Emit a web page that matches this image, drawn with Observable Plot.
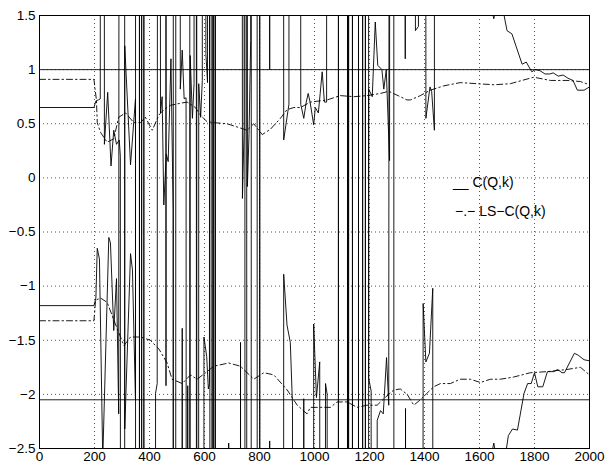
<!DOCTYPE html>
<html><head><meta charset="utf-8">
<script src="https://cdn.jsdelivr.net/npm/d3@7"></script>
<script src="https://cdn.jsdelivr.net/npm/@observablehq/plot@0.6"></script>
<style>
body{margin:0;background:#fff;}
#wrap{position:relative;width:605px;height:470px;}
.leg{position:absolute;font:14px "Liberation Sans",Arial,sans-serif;white-space:pre;color:#000;line-height:16px;}
</style></head><body><div id="wrap"></div>
<script>
// ---- data ----
const xTicks = [0,200,400,600,800,1000,1200,1400,1600,1800,2000];
const yTicks = [-2.5,-2,-1.5,-1,-0.5,0,0.5,1,1.5];
const refLevels = [1, -2.05];
const legendLabels = ["C(Q,k)", "LS\u2212C(Q,k)"];

// C(Q,k), upper branch: [k, value]; values of +/-40 are far off-scale excursions, null = gap
const cUpper = [[0,0.65],[198,0.65],[205,0.71],[214,0.72],[221,0.73],[223,40],[233,40],[236,0.31],[248,0.79],[260,0.11],[270,0.44],[280,0.31],[290,0.35],[294,0.2],[297,-40],[307,-40],[310,1.22],[331,0.12],[349,0.73],[352,-40],[362,-40],[365,40],[370,40],[373,-40],[378,-40],[381,40],[430,40],[440,0.6],[446,0.75],[452,-0.25],[461,0.22],[468,0.15],[478,1.1],[486,-0.3],[490,-40],[494,-40],[497,40],[508,40],[512,0.82],[519,1.18],[526,0.73],[533,0.74],[537,-40],[545,-40],[548,1.13],[556,0.55],[562,0.87],[566,40],[569,40],[572,-40],[576,-40],[579,0.87],[586,0.56],[592,0.9],[596,40],[603,40],[605,1.15],[611,0.88],[615,40],[618,40],[621,-40],[626,-40],[629,40],[632,40],[635,-40],[638,-40],[641,40],[728,40],[738,-0.19],[744,0.45],[748,40],[752,40],[756,-0.08],[762,0.41],[768,1.27],[772,40],[790,40],[793,-40],[797,-40],[801,1.05],[804,40],[833,40],[837,1.0],[841,40],[884,40],[888,0.35],[907,0.68],[912,40],[945,40],[950,0.68],[961,0.55],[970,0.7],[977,0.78],[984,0.7],[997,0.49],[1003,0.65],[1014,0.6],[1028,0.98],[1036,0.7],[1044,0.7],[1048,40],[1085.5,40],[1088.5,-40],[1118.5,-40],[1121.5,40],[1122.5,40],[1125.5,-40],[1136.5,-40],[1139.5,40],[1158.5,40],[1161.5,-40],[1173.5,-40],[1176.5,40],[1183.5,40],[1186.5,-40],[1194,-40],[1197,0.82],[1210,0.75],[1221,1.44],[1230,1.04],[1245,1.0],[1252,0.82],[1261,1.0],[1273,0.16],[1280,40],[1326,40],[1330,1.1],[1334,40],[1363,40],[1367,1.36],[1378,1.4],[1388,40],[1402,40],[1405,0.55],[1420,0.84],[1426,0.8],[1436,0.44],[1437,40],[1438,null],[1640,1.6],[1652,1.47],[1662,1.6],[1688,1.52],[1700,1.36],[1718,1.33],[1735,1.2],[1755,1.05],[1770,1.07],[1790,0.98],[1802,1.0],[1820,0.99],[1838,0.96],[1856,0.96],[1868,0.97],[1886,0.94],[1904,0.95],[1922,0.92],[1940,0.9],[1956,0.81],[1980,0.81],[2000,0.84]];

// C(Q,k), lower branch
const cLower = [[0,-1.18],[198,-1.18],[205,-1.11],[210,-0.65],[218,-0.75],[230,-2.6],[252,-0.55],[258,-0.6],[270,-1.41],[280,-0.93],[288,-2.18],[297,40],[307,40],[310,-2.32],[331,-0.7],[338,-0.85],[349,-2.05],[352,40],[362,40],[365,-40],[370,-40],[373,40],[378,40],[381,-40],[418,-40],[422,-1.99],[428,-1.9],[437,40],[457,40],[460,-1.92],[463,40],[485,40],[488,-40],[515,-40],[519,-1.39],[523,-40],[535,-40],[539,-1.92],[543,-40],[545,-40],[548,40],[569,40],[572,-0.9],[576,-40],[596,-40],[598,-1.47],[608,-1.65],[614,-1.95],[618,-1.9],[621,40],[626,40],[628,-1.3],[632,-40],[635,40],[638,40],[641,-40],[684,-40],[688,-2.45],[692,-40],[727,-40],[731,-1.52],[735,-40],[746,-40],[748,40],[752,40],[755,-40],[768,-40],[772,40],[790,40],[797,40],[801,-0.7],[804,-40],[833,-40],[837,-2.43],[841,-40],[884,-40],[888,-0.89],[900,-1.36],[912,-1.52],[920,-2.1],[924,-40],[957,-40],[961,-2.04],[965,-40],[993,-40],[997,-1.35],[1007,-2.03],[1019,-1.7],[1024,-40],[1036,-40],[1040,-1.9],[1046,-2.0],[1052,-40],[1085.5,-40],[1088.5,40],[1118.5,40],[1121.5,-40],[1122.5,-40],[1125.5,40],[1136.5,40],[1139.5,-40],[1158.5,-40],[1161.5,40],[1173.5,40],[1176.5,-40],[1183.5,-40],[1186.5,40],[1194,40],[1197,-1.85],[1206,-1.97],[1210,-40],[1224,-40],[1228,-2.24],[1240,-2.15],[1250,-2.18],[1262,-1.66],[1270,-2.1],[1280,40],[1287,40],[1290,-40],[1327,-40],[1331,-2.13],[1335,-40],[1390,-40],[1395,-1.16],[1405,-1.7],[1418,-1.62],[1430,-1.02],[1433,-40],[1434,null],[1640,-2.6],[1652,-2.45],[1662,-2.6],[1690,-2.6],[1698,-2.5],[1705,-2.38],[1720,-2.32],[1738,-2.33],[1762,-1.99],[1775,-1.9],[1788,-1.9],[1800,-1.8],[1812,-1.93],[1830,-1.93],[1847,-1.79],[1870,-1.79],[1884,-1.77],[1900,-1.8],[1909,-1.8],[1927,-1.71],[1945,-1.62],[1960,-1.64],[1980,-1.68],[2000,-1.69]];

// LS-C(Q,k), upper branch
const lsUpper = [[0,0.91],[198,0.91],[203,0.8],[207,0.72],[210,0.51],[222,0.42],[246,0.33],[270,0.36],[288,0.56],[313,0.6],[343,0.51],[367,0.51],[385,0.56],[410,0.44],[434,0.58],[452,0.63],[476,0.67],[513,0.69],[537,0.7],[567,0.65],[585,0.58],[609,0.52],[634,0.51],[682,0.5],[719,0.47],[755,0.44],[779,0.5],[810,0.4],[840,0.45],[876,0.55],[900,0.63],[925,0.65],[949,0.65],[985,0.7],[1046,0.72],[1094,0.76],[1143,0.75],[1191,0.76],[1240,0.78],[1270,0.8],[1312,0.75],[1336,0.72],[1349,0.72],[1385,0.76],[1421,0.81],[1470,0.85],[1530,0.88],[1591,0.87],[1652,0.86],[1712,0.87],[1797,0.93],[1858,0.9],[1918,0.9],[1967,0.89],[2000,0.86]];

// LS-C(Q,k), lower branch
const lsLower = [[0,-1.32],[198,-1.32],[204,-1.13],[222,-1.11],[246,-1.15],[276,-1.35],[307,-1.55],[331,-1.47],[367,-1.47],[403,-1.5],[434,-1.58],[464,-1.71],[482,-1.86],[519,-1.9],[549,-1.82],[573,-1.86],[604,-1.8],[634,-1.74],[688,-1.71],[731,-1.74],[779,-1.86],[816,-1.8],[852,-1.82],[901,-1.96],[937,-2.1],[973,-2.18],[985,-2.12],[1022,-2.12],[1058,-2.12],[1082,-2.07],[1119,-2.07],[1155,-2.12],[1191,-2.1],[1228,-2.1],[1252,-2.04],[1288,-1.96],[1312,-1.95],[1337,-2.0],[1361,-2.1],[1385,-2.05],[1409,-1.99],[1433,-1.93],[1458,-1.9],[1494,-1.9],[1530,-1.86],[1567,-1.86],[1603,-1.89],[1640,-1.86],[1676,-1.86],[1724,-1.84],[1785,-1.8],[1845,-1.79],[1918,-1.77],[1967,-1.75],[2000,-1.82]];

// ---- build ----
const rows = pairs => pairs.map(([x, y]) => ({x, y}));
const fmtY = d => d < 0 ? "\u2212" + Math.abs(d) : String(d);
const dashDot = "6,3,1.5,3";
const font = '"Liberation Sans", Arial, sans-serif';

const chart = Plot.plot({
  width: 605, height: 470,
  marginLeft: 39, marginRight: 16, marginTop: 15, marginBottom: 22,
  style: {fontFamily: font, fontSize: "13.5px", background: "#fff", color: "#000"},
  x: {domain: [0, 2000], label: null},
  y: {domain: [-2.5, 1.5], label: null},
  marks: [
    Plot.gridX(xTicks.slice(1, -1), {stroke: "#555", strokeOpacity: 1, strokeWidth: 1, strokeDasharray: "1,3"}),
    Plot.gridY(yTicks.slice(1, -1), {stroke: "#555", strokeOpacity: 1, strokeWidth: 1, strokeDasharray: "1,3"}),
    Plot.ruleY(refLevels, {stroke: "#222", strokeWidth: 1}),
    Plot.line(rows(lsUpper), {x: "x", y: "y", stroke: "#000", strokeWidth: 0.9, strokeDasharray: dashDot, clip: true}),
    Plot.line(rows(lsLower), {x: "x", y: "y", stroke: "#000", strokeWidth: 0.9, strokeDasharray: dashDot, clip: true}),
    Plot.line(rows(cUpper), {x: "x", y: "y", stroke: "#000", strokeWidth: 0.9, clip: true}),
    Plot.line(rows(cLower), {x: "x", y: "y", stroke: "#000", strokeWidth: 0.9, clip: true}),
    Plot.frame({stroke: "#000", strokeWidth: 1}),
    Plot.axisX(xTicks, {tickSize: 0, tickPadding: 3, tickFormat: d => String(d), fontSize: 13.5}),
    Plot.axisY(yTicks, {tickSize: 0, tickPadding: 4, tickFormat: fmtY, fontSize: 13.5})
  ]
});
const wrap = document.getElementById("wrap");
wrap.appendChild(chart);

// legend (MATLAB-style, no box)
const l1 = document.createElement("div");
l1.className = "leg";
l1.style.left = "453px"; l1.style.top = "174px";
l1.textContent = "__ " + legendLabels[0];
const l2 = document.createElement("div");
l2.className = "leg";
l2.style.left = "455px"; l2.style.top = "203px";
l2.textContent = "\u2212.\u2212 " + legendLabels[1];
wrap.appendChild(l1); wrap.appendChild(l2);
</script></body></html>
